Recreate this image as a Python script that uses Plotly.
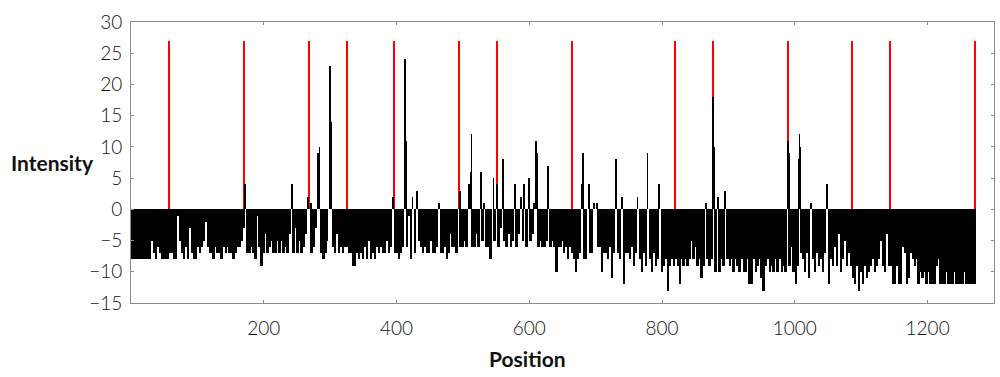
import numpy as np
import plotly.graph_objects as go

# ---- data -------------------------------------------------------------
# negative intensities, one value per bin of 3 positions (bin k covers 3k+1..3k+3)
bin_size = 3
seg_a = [-8, -8, -8, -8, -8, -8, -8, -8, -8, -8,
         -5, -7, -8, -6, -7, -8, -8, -8, -8, -7,
         -7, -8, -8, -1, -5, -7, -8, -6, -8, -3,
         -7, -8, -8, -6, -7, -6, -5, -2, -6, -7,
         -7, -8, -6, -7, -7, -8, -6, -7, -6, -7,
         -7, -8, -7, -6, -6, -5, -3, 0, -7, -7,
         -6, -7, -8, -1, -6, -9, -7, -4, -7, -6,
         -5, -7, -7, -5, -7, -5, -7, -6, -7, -4,
         0, -7, -3, -7, -5, -7, -6, -4, 0, 0,
         -7, -6, -3, 0, 0, -7, -8, -7, -5, 0,
         0, -6, -7, -4, -7, -6, -7]
seg_b = [-6, -6, -7, -7, -9, -9, -7, -8, -7, -8,
         -6, -8, -5, -8, -7, -8, -6, -7, -6, -7,
         -7, -5, -7, -6, 0, -7, -7, -8, -7, -6,
         0, -6, -1, -8, 0, -7, 0, -5, -6, -7,
         -6, -7, -7, -5, -7, -7, -6, 0, -7, -7,
         -6, -8, -7, -4, -6, -6, -7, 0, -6, -6,
         -5, -6, 0, 0, -6, -6, -4, -6, 0, -5,
         0, -6, -6, -8, 0, -5, 0, -6, -3, 0,
         -5, -6, -4, -6, -5, 0, -6, -4, 0, -5,
         0, -6, 0, -5, -4, 0, 0, -6, -5, -6,
         -6, -5, 0, -6, -5, -6, -10, -6]
seg_c = [-6, -5, -7, -6, -8, -6, -7, -8, -10, -8,
         -7, 0, -8, -8, 0, -7, -7, 0, 0, -6,
         -6, -10, -7, -7, -8, -6, -11, -7, 0, -7,
         -8, 0, -12, -7, -7, -8, -6, -9, -7, 0,
         -8, -10, -7, -9, 0, -8, -10, -7, -9, -8,
         0, -10, -9, -8, -13, -9, -8, -9, -8, -9,
         -12, -8, -9, -8, -9, -8, -5, -8, -6, -9,
         -8, -11, -9, 0, -8, -9, -8, 0, -10, 0,
         -10, -8, -9, 0, -8, -9, -8, -10, -8, -9,
         -10, -8, -10, -10, -8, -12, -12, -8, -10, -9,
         -8, -11, -13, -9, -8, -10, -9]
seg_d = [-10, -8, -10, -8, -10, -9, -10, 0, -9, -6,
         -10, -12, -9, 0, -7, -8, -10, -7, -11, 0,
         -8, -10, -7, -9, -8, -10, -7, 0, -12, -8,
         -9, -6, -9, -4, -10, -8, -5, -9, -7, -9,
         -11, -12, -9, -13, -10, -12, -9, -11, -10, -9,
         -8, -10, -9, -8, -5, -9, -10, -4, -9, -9,
         -12, -12, -9, -12, -12, -6, -7, -12, -11, -7,
         -8, -9, -8, -12, -10, -11, -10, -12, -10, -12,
         -12, -12, -9, -8, -12, -12, -12, -10, -12, -12,
         -12, -10, -12, -12, -12, -12, -10, -12, -12, -12,
         -12, -12]

# positive intensities at single positions
pos_positions = [172, 243, 267, 271, 282, 284, 300, 301, 302,
                 395, 412, 413, 414, 424, 431, 464, 495,
                 509, 512, 513, 527, 532, 546, 551, 560,
                 578, 588, 592, 600, 607, 610, 611, 628,
                 680, 681, 690, 698, 702, 730, 740, 763,
                 778, 796, 866, 877, 878, 884, 895,
                 990, 991, 1006, 1007, 1008, 1024, 1048]
pos_values = [4, 4, 2, 1, 9, 10, 23, 14, 9,
              2, 7, 24, 11, 2, 3, 1, 3,
              4, 6, 12, 6, 1, 5, 4, 8,
              4, 2, 4, 5, 1, 11, 9, 7,
              4, 9, 4, 1, 1, 8, 2, 2,
              9, 4, 1, 18, 10, 2, 3,
              11, 9, 8, 12, 10, 1, 4]

# marked sites (red lines)
site_positions = [58, 171, 269, 326, 397, 494, 551, 664, 820, 877, 990, 1087, 1144, 1272]
site_height = 27

x_ticks = [200, 400, 600, 800, 1000, 1200]
y_ticks = [-15, -10, -5, 0, 5, 10, 15, 20, 25, 30]

# ---- figure -----------------------------------------------------------
neg_values = seg_a + seg_b + seg_c + seg_d
neg_x = np.arange(len(neg_values)) * bin_size + (bin_size + 1) / 2

fig = go.Figure()
fig.add_trace(go.Bar(x=site_positions, y=[site_height] * len(site_positions),
                     width=2.0, marker=dict(color="#ff0000", line=dict(width=0)),
                     hoverinfo="skip"))
fig.add_trace(go.Bar(x=neg_x, y=neg_values, width=bin_size,
                     marker=dict(color="black", line=dict(width=0))))
fig.add_trace(go.Bar(x=pos_positions, y=pos_values, width=1.3,
                     marker=dict(color="black", line=dict(width=0))))

axis_common = dict(showline=True, linecolor="#8c8c8c", linewidth=1, mirror="ticks",
                   ticks="inside", ticklen=3, tickcolor="#8c8c8c", showgrid=False,
                   zeroline=False,
                   tickfont=dict(family="Lato", size=19, color="#111111", weight=300))

fig.update_layout(
    width=1000, height=377,
    margin=dict(l=131, r=6, t=22, b=74),
    paper_bgcolor="white", plot_bgcolor="white",
    barmode="overlay", bargap=0, showlegend=False,
    xaxis=dict(range=[0, 1300], tickvals=x_ticks, ticklabelstandoff=8, **axis_common),
    yaxis=dict(range=[-15, 30], tickvals=y_ticks, ticklabelstandoff=4, **axis_common),
    annotations=[
        dict(text="<b>Intensity</b>", xref="paper", yref="paper", x=-0.141, y=0.5,
             xanchor="left", yanchor="middle", showarrow=False,
             font=dict(family="Lato", size=21, color="#111111")),
        dict(text="<b>Position</b>", xref="paper", yref="paper", x=0.459, y=-0.196,
             xanchor="center", yanchor="middle", showarrow=False,
             font=dict(family="Lato", size=21, color="#111111")),
    ],
)

fig.write_html("out.html", config={"displayModeBar": False},
               post_script="document.body.style.margin='0';document.body.style.padding='0';")
